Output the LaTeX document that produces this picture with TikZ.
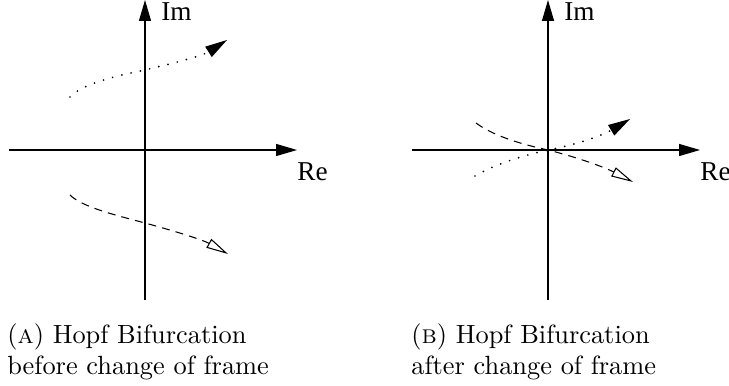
\documentclass[tikz,border=0pt]{standalone}
\usepackage{fontspec}
\usepackage{tikz}
\usetikzlibrary{arrows.meta, positioning}
\newfontfamily\figfont{Liberation Serif}
\newfontfamily\capfont{lmroman10-regular.otf}[SmallCapsFont=lmromancaps10-regular.otf]
\tikzset{
  axis/.style={line width=0.7pt, -{Triangle[length=0.42cm, width=0.24cm]}},
  axislabel/.style={anchor=base west, inner sep=0pt, font=\figfont\fontsize{15.5}{17}\selectfont},
  dotpath/.style={line width=1.1pt, line cap=round, dash pattern=on 0pt off 5.4pt,
    -{Triangle[length=0.44cm, width=0.24cm, line width=0.6pt]}},
  dashpath/.style={line width=0.6pt, dash pattern=on 4.5pt off 3.5pt,
    -{Triangle[open, length=0.44cm, width=0.2cm, line width=0.6pt]}},
  caption/.style={anchor=base west, inner sep=0pt, align=left,
    font=\capfont\fontsize{15}{17.6}\selectfont}
}

\begin{document}
\begin{tikzpicture}[x=0.02cm, y=-0.02cm]
  \useasboundingbox (0,0) rectangle (729,385);

  % (a) before change of frame
  \coordinate (oA) at (145,150);
  \coordinate (reAl) at (9,150);
  \coordinate (reAr) at (297,150);
  \coordinate (imAb) at (145,300);
  \coordinate (imAt) at (145,0);
  \draw[axis] (reAl) -- (reAr);
  \draw[axis] (imAb) -- (imAt);
  \node[axislabel] (imA) at (161,21) {Im};
  \node[axislabel] (reA) at (297,180) {Re};
  \draw[dotpath] (70,97) .. controls (82,84) and (115,76) .. (145,70)
    .. controls (178,62) and (202,56) .. (227,40);
  \draw[dashpath] (70,195) .. controls (82,207) and (115,215) .. (145,223)
    .. controls (178,232) and (203,240) .. (228,254);
  \node[caption] (capA) at (7,374) {(\textsc{a}) Hopf Bifurcation\\before change of frame};

  % (b) after change of frame
  \coordinate (oB) at (548,150);
  \coordinate (reBl) at (412,150);
  \coordinate (reBr) at (700,150);
  \coordinate (imBb) at (548,300);
  \coordinate (imBt) at (548,0);
  \draw[axis] (reBl) -- (reBr);
  \draw[axis] (imBb) -- (imBt);
  \node[axislabel] (imB) at (564,21) {Im};
  \node[axislabel] (reB) at (700,180) {Re};
  \draw[dashpath] (476,123) .. controls (495,137) and (525,145) .. (oB)
    .. controls (580,158) and (606,168) .. (633,182);
  \draw[dotpath] (475,176) .. controls (495,164) and (525,155) .. (oB)
    .. controls (580,144) and (605,134) .. (630,119);
  \node[caption] (capB) at (411,374) {(\textsc{b}) Hopf Bifurcation\\after change of frame};
\end{tikzpicture}
\end{document}
